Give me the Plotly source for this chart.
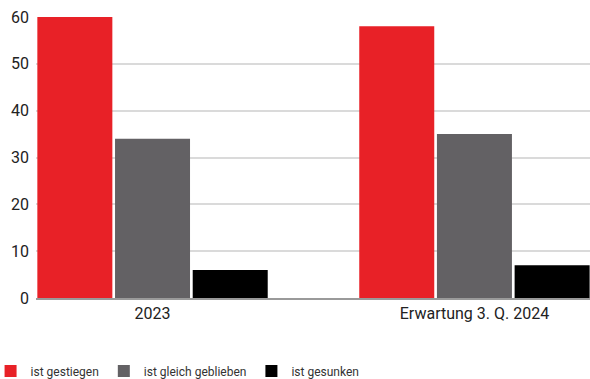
import plotly.graph_objects as go

categories = ["2023", "Erwartung 3. Q. 2024"]
series_names = ["ist gestiegen", "ist gleich geblieben", "ist gesunken"]
values_gestiegen = [60, 58]
values_gleich = [34, 35]
values_gesunken = [6, 7]
y_ticks = [0, 10, 20, 30, 40, 50, 60]

colors = ["#e82127", "#636164", "#000000"]
series_values = [values_gestiegen, values_gleich, values_gesunken]

fig = go.Figure()
for name, vals, col in zip(series_names, series_values, colors):
    fig.add_trace(go.Bar(
        x=list(range(len(categories))), y=vals, name=name,
        marker=dict(color=col, line=dict(width=0)),
        width=0.233,
    ))

fig.update_layout(
    width=590, height=379,
    margin=dict(l=36, r=0, t=17, b=81, autoexpand=False),
    paper_bgcolor="white", plot_bgcolor="white",
    barmode="group", bargap=0.276, bargroupgap=0.05,
    font=dict(family="Roboto", color="#222222"),
    showlegend=True,
    legend=dict(
        orientation="h", x=-0.082, xanchor="left", y=-0.26, yanchor="middle",
        font=dict(size=12, color="#333333"), traceorder="normal",
    ),
    xaxis=dict(
        tickmode="array", tickvals=[0, 1], ticktext=categories,
        range=[-0.362, 1.359], showgrid=False, zeroline=False,
        showline=True, linecolor="#9a9a9a", linewidth=1.5,
        tickfont=dict(size=16, color="#222222"), ticks="", automargin=False,
    ),
    yaxis=dict(
        range=[0, 60], tickvals=y_ticks, showgrid=True,
        gridcolor="#dadada", gridwidth=1.5, zeroline=False,
        tickfont=dict(size=16, color="#222222"), ticks="", ticklabelstandoff=6,
        automargin=False,
    ),
)

fig.write_html("out.html")
